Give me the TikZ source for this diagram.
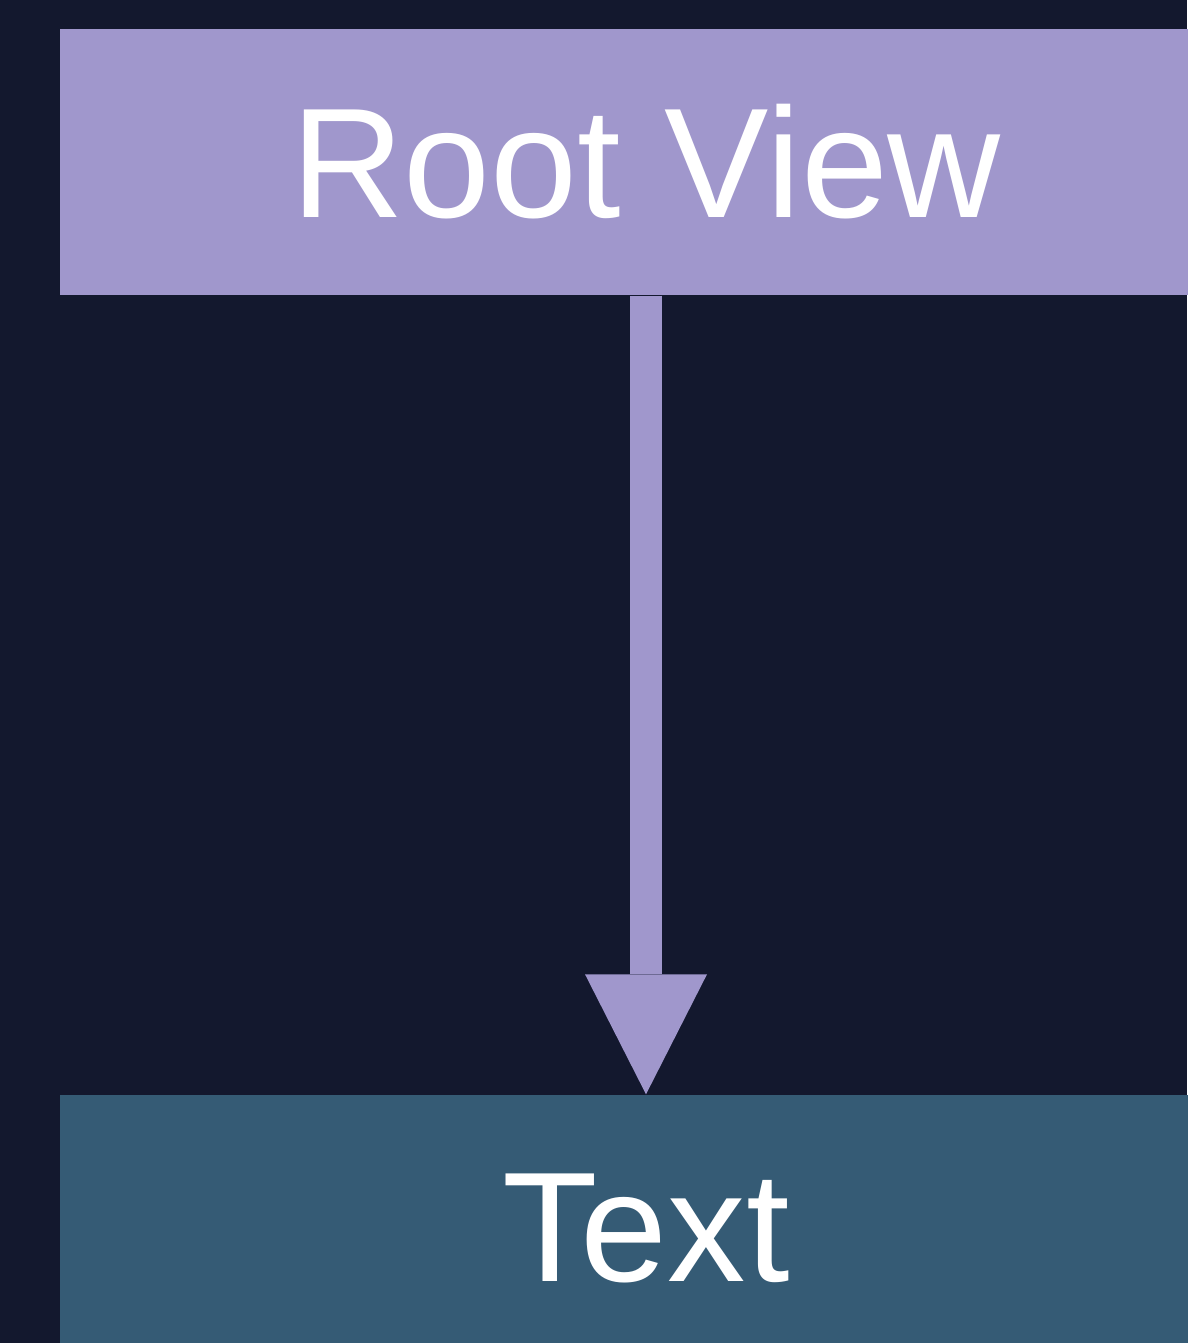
\documentclass[tikz,border=0pt]{standalone}
\usepackage{fontspec}
\setmainfont{Liberation Sans}
\usepackage{xcolor}
\usetikzlibrary{arrows.meta}
\definecolor{bgnavy}{HTML}{13182E}
\definecolor{lavender}{HTML}{A097CC}
\definecolor{slateteal}{HTML}{355B75}

\begin{document}
\begin{tikzpicture}[
viewbox/.style={rectangle,inner sep=0pt,minimum width=11.72cm,minimum height=2.66cm,text=white,font=\fontsize{44.5}{50}\selectfont}]
\fill[bgnavy](0,0)rectangle(11.87,-13.43);
\useasboundingbox(0,0)rectangle(11.87,-13.43);
\node[viewbox,fill=lavender](root)at(6.46,-1.62){Root View};
\node[viewbox,fill=slateteal](text)at(6.46,-12.28){Text};
%%
\draw[lavender,line width=0.32cm,-{Triangle[length=1.2cm,width=1.22cm,line width=0pt]}](root.south)--(text.north);
\end{tikzpicture}
\end{document}
